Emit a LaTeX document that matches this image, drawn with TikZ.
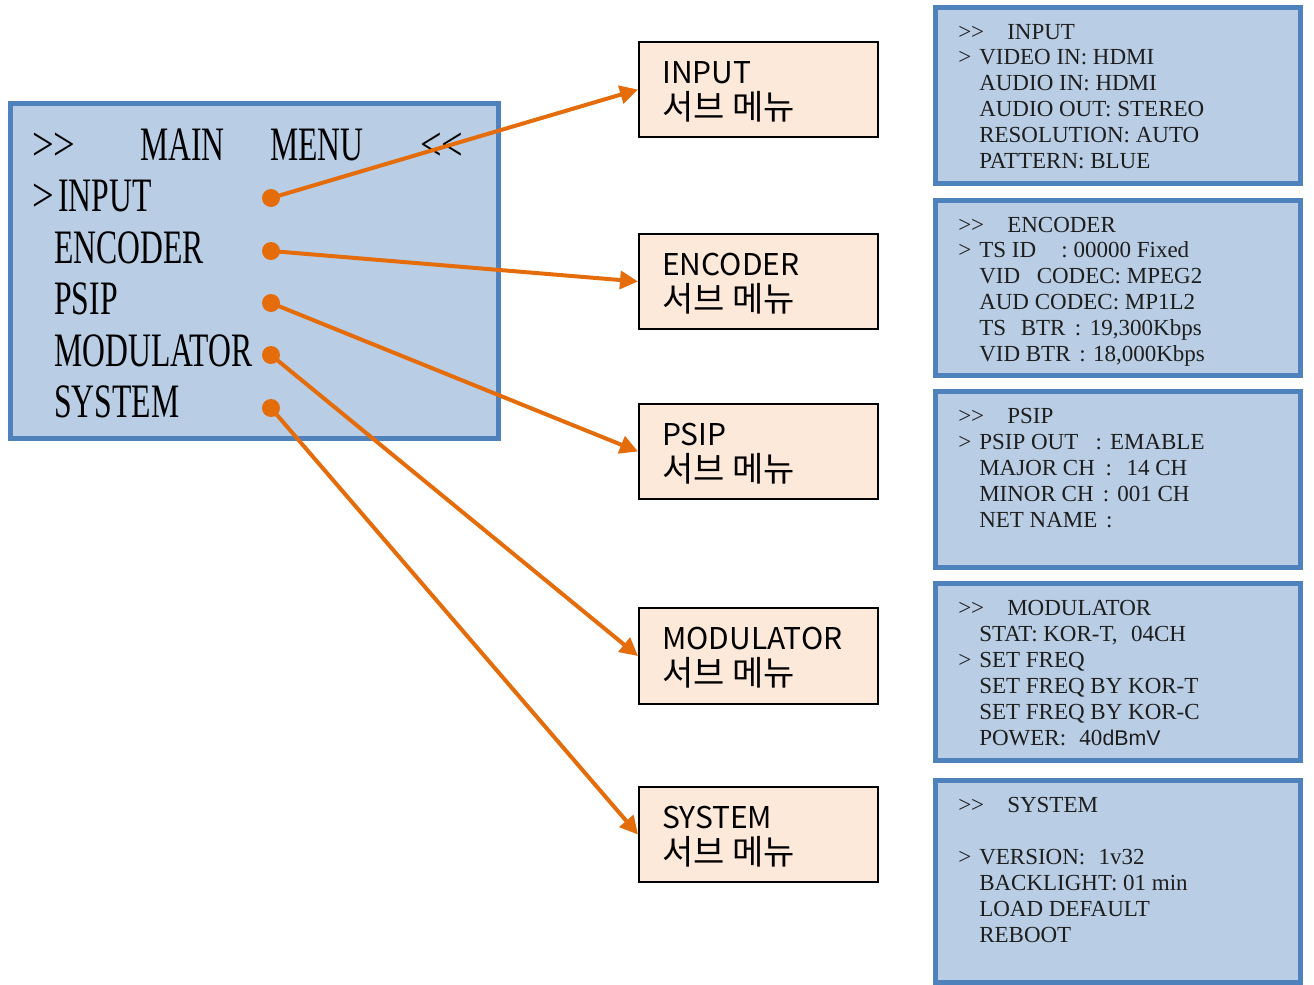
\documentclass[tikz,border=0pt]{standalone}
\usepackage{fontspec}
\setmainfont{Liberation Serif}
\newfontfamily\menufont[FakeStretch=0.66]{Liberation Serif}
\newfontfamily\arrfont[FakeStretch=0.8]{Liberation Serif}
\newfontfamily\krfont{Noto Sans CJK KR}
\newfontfamily\unitfont{Liberation Sans}
\usetikzlibrary{arrows.meta}
\definecolor{lcdfill}{HTML}{B9CDE5}
\definecolor{lcdline}{HTML}{4F81BD}
\definecolor{subfill}{HTML}{FDE9D9}
\definecolor{arrowc}{HTML}{E46C0A}
\definecolor{txtc}{HTML}{1E1E1E}
\newcommand{\dgt}{>\kern0pt>}
\newcommand{\dlt}{<\kern0pt<}
\newcommand{\kor}{{\fontsize{25.5}{30}\selectfont 서브 메뉴}}
\begin{document}
\begin{tikzpicture}[x=0.75pt,y=-0.75pt,
  lcd/.style={draw=lcdline,fill=lcdfill,line width=3.75pt,inner sep=0pt},
  subbox/.style={draw=black,fill=subfill,line width=1.5pt,minimum width=179.25pt,minimum height=71.25pt,inner sep=0pt},
  mtxt/.style={font=\menufont\fontsize{36}{40}\selectfont,inner sep=0pt,anchor=base west,text=black},
  atxt/.style={font=\arrfont\fontsize{36}{40}\selectfont,inner sep=0pt,anchor=base west,text=black},
  ptxt/.style={font=\fontsize{17.25}{20}\selectfont,inner sep=0pt,anchor=base west,text=txtc},
  stxt/.style={font=\krfont\fontsize{22.5}{27}\selectfont,inner sep=0pt,anchor=base west,text=black},
  dot/.style={circle,fill=arrowc,inner sep=0pt,minimum size=13.5pt},
  arr/.style={draw=arrowc,line width=3pt,-{Triangle[length=13.5pt,width=13.5pt]}}]
\useasboundingbox (0,0) rectangle (1314,985);

% main menu
\node[lcd,minimum width=366pt,minimum height=251.25pt] (main) at (254.5,271) {};
\node[atxt] (mt1) at (32,160) {\dgt};
\node[mtxt] (mt2) at (140,160) {MAIN};
\node[mtxt] (mt3) at (270,160) {MENU};
\node[atxt] (mt4) at (420,160) {\dlt};
\node[atxt] (mcur) at (32,211.5) {>};
\node[mtxt] (m1) at (58,211.5) {INPUT};
\node[mtxt] (m2) at (54,263) {ENCODER};
\node[mtxt] (m3) at (54,314.5) {PSIP};
\node[mtxt] (m4) at (54,366) {MODULATOR};
\node[mtxt] (m5) at (54,417.5) {SYSTEM};

% sub menu boxes
\node[subbox] (s1) at (758.5,89.5) {};
\node[subbox] (s2) at (758.5,281.5) {};
\node[subbox] (s3) at (758.5,451.5) {};
\node[subbox,minimum height=72pt] (s4) at (758.5,656) {};
\node[subbox] (s5) at (758.5,834.5) {};
\node[stxt] (s1a) at (662,83) {INPUT};
\node[stxt] (s1b) at (662,119) {\kor};
\node[stxt] (s2a) at (662,275) {ENCODER};
\node[stxt] (s2b) at (662,311) {\kor};
\node[stxt] (s3a) at (662,445) {PSIP};
\node[stxt] (s3b) at (662,481) {\kor};
\node[stxt] (s4a) at (662,649) {MODULATOR};
\node[stxt] (s4b) at (662,685) {\kor};
\node[stxt] (s5a) at (662,828) {SYSTEM};
\node[stxt] (s5b) at (662,864) {\kor};

% dots and arrows
\node[dot] (d1) at (271,198) {};
\node[dot] (d2) at (271,251) {};
\node[dot] (d3) at (271,303) {};
\node[dot] (d4) at (271,355) {};
\node[dot] (d5) at (271,408) {};
\draw[arr] (d1.center) -- (s1.west);
\draw[arr] (d2.center) -- (s2.west);
\draw[arr] (d3.center) -- (s3.west);
\draw[arr] (d4.center) -- (s4.west);
\draw[arr] (d5.center) -- (s5.west);

% right panels
\node[lcd,minimum width=273.75pt,minimum height=132pt] (p1) at (1118,95.5) {};
\node[lcd,minimum width=273.75pt,minimum height=131.25pt] (p2) at (1118,288) {};
\node[lcd,minimum width=273.75pt,minimum height=132pt] (p3) at (1118,479.5) {};
\node[lcd,minimum width=273.75pt,minimum height=132.75pt] (p4) at (1118,672) {};
\node[lcd,minimum width=273.75pt,minimum height=151.5pt] (p5) at (1118,881.5) {};

% INPUT panel
\node[ptxt] (p1h) at (958,39) {\dgt};
\node[ptxt] (p1t) at (1007,39) {INPUT};
\node[ptxt] (p1c) at (958,64) {>};
\node[ptxt] (p1l1) at (979,64) {VIDEO IN: HDMI};
\node[ptxt] (p1l2) at (979,90) {AUDIO IN: HDMI};
\node[ptxt] (p1l3) at (979,116) {AUDIO OUT: STEREO};
\node[ptxt] (p1l4) at (979,142) {RESOLUTION: AUTO};
\node[ptxt] (p1l5) at (979,168) {PATTERN: BLUE};

% ENCODER panel
\node[ptxt] (p2h) at (958,232) {\dgt};
\node[ptxt] (p2t) at (1007,232) {ENCODER};
\node[ptxt] (p2c) at (958,257) {>};
\node[ptxt] (p2l1) at (979,257) {TS ID\hspace{19pt}: 00000 Fixed};
\node[ptxt] (p2l2) at (979,283) {VID\hspace{12.5pt}CODEC: MPEG2};
\node[ptxt] (p2l3) at (979,309) {AUD CODEC: MP1L2};
\node[ptxt] (p2l4) at (979,335) {TS\hspace{11pt}BTR\hspace{7pt}:\hspace{6.5pt}19,300Kbps};
\node[ptxt] (p2l5) at (979,361) {VID BTR\hspace{6.5pt}:\hspace{5.5pt}18,000Kbps};

% PSIP panel
\node[ptxt] (p3h) at (958,423) {\dgt};
\node[ptxt] (p3t) at (1007,423) {PSIP};
\node[ptxt] (p3c) at (958,449) {>};
\node[ptxt] (p3l1) at (979,449) {PSIP OUT\hspace{13pt}:\hspace{6pt}EMABLE};
\node[ptxt] (p3l2) at (979,475) {MAJOR CH\hspace{8pt}:\hspace{11pt}14 CH};
\node[ptxt] (p3l3) at (979,501) {MINOR CH\hspace{7pt}:\hspace{6pt}001 CH};
\node[ptxt] (p3l4) at (979,527) {NET NAME\hspace{6.5pt}:};

% MODULATOR panel
\node[ptxt] (p4h) at (958,615) {\dgt};
\node[ptxt] (p4t) at (1007,615) {MODULATOR};
\node[ptxt] (p4l1) at (979,641) {STAT: KOR-T,\hspace{10pt}04CH};
\node[ptxt] (p4c) at (958,667) {>};
\node[ptxt] (p4l2) at (979,667) {SET FREQ};
\node[ptxt] (p4l3) at (979,693) {SET FREQ BY KOR-T};
\node[ptxt] (p4l4) at (979,719) {SET FREQ BY KOR-C};
\node[ptxt] (p4l5) at (979,745) {POWER:\hspace{10pt}40{\unitfont\fontsize{16}{18}\selectfont dBmV}};

% SYSTEM panel
\node[ptxt] (p5h) at (958,812) {\dgt};
\node[ptxt] (p5t) at (1007,812) {SYSTEM};
\node[ptxt] (p5c) at (958,864) {>};
\node[ptxt] (p5l1) at (979,864) {VERSION:\hspace{10pt}1v32};
\node[ptxt] (p5l2) at (979,890) {BACKLIGHT: 01 min};
\node[ptxt] (p5l3) at (979,916) {LOAD DEFAULT};
\node[ptxt] (p5l4) at (979,942) {REBOOT};
\end{tikzpicture}
\end{document}
